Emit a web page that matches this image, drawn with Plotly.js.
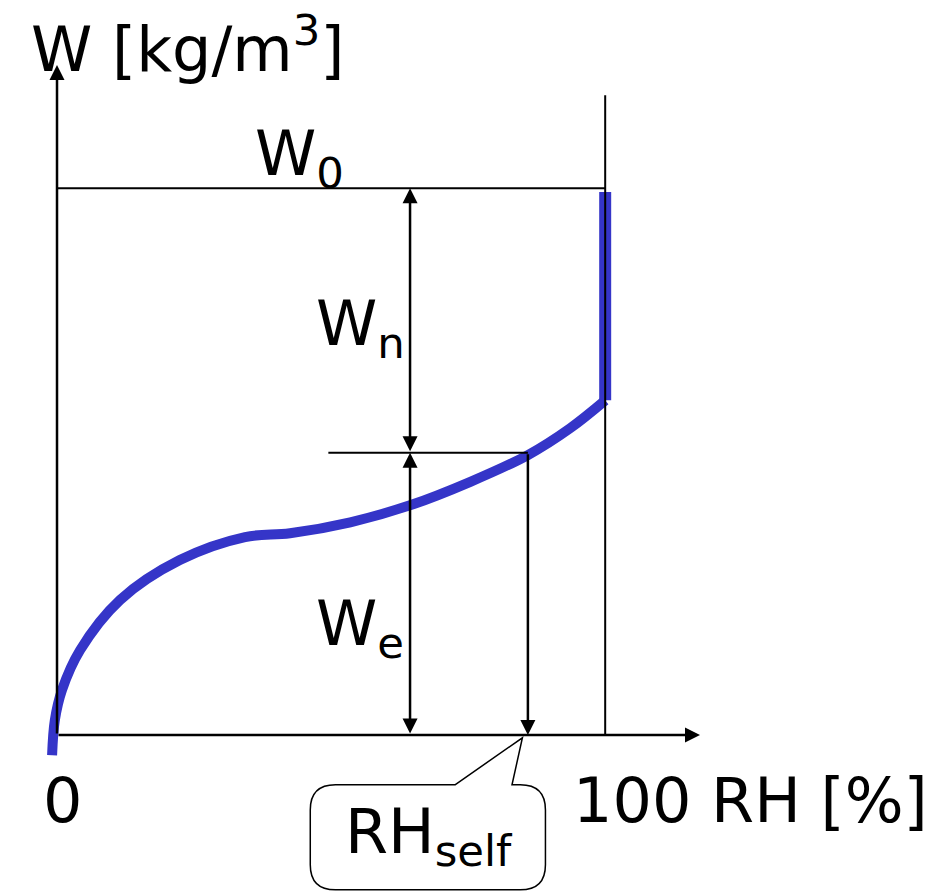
<!DOCTYPE html>
<html>
<head>
<meta charset="utf-8">
<script src="https://cdn.plot.ly/plotly-3.0.1.min.js"></script>
<style>html,body{margin:0;padding:0;background:#fff}</style>
</head>
<body>
<div id="plot" style="width:950px;height:895px"></div>
<script>
// sorption curve, RH [%] vs W (W0 = 100)
const curveRH = [-0.9, -0.4, 0.9, 4.2, 11.5, 22.4, 34.3, 42.5, 53.5, 64.4, 75.4, 85.9, 93.6, 100];
const curveW  = [-3.7, 2.7, 8.2, 15.5, 24.7, 32.0, 36.2, 36.9, 38.9, 42.0, 46.3, 51.2, 56.1, 61.2];
const satRH = [100, 100];
const satW = [61.2, 99.3];

const W0 = 100;
const Wself = 51.6;
const RHself = 85.9;
const RHmark = 64.4;

const black = '#000';
const blue = '#3535c8';
const fnt = {family: 'DejaVu Sans', size: 62, color: black};

const traces = [
  {x: curveRH, y: curveW, mode: 'lines', line: {color: blue, width: 10, shape: 'spline'}, hoverinfo: 'skip'},
  {x: satRH, y: satW, mode: 'lines', line: {color: blue, width: 12}, hoverinfo: 'skip'}
];

function arrow(x, y, ax, ay, side) {
  return {x: x, y: y, ax: ax, ay: ay, xref: 'x', yref: 'y', axref: 'x', ayref: 'y',
    text: '', showarrow: true, arrowhead: 2, arrowsize: 1.2, arrowwidth: 2.5,
    arrowcolor: black, arrowside: side || 'end'};
}

function label(x, y, text, anchor) {
  return {x: x, y: y, xref: 'x', yref: 'y', text: text, showarrow: false,
    xanchor: anchor || 'center', font: fnt};
}

const annotations = [
  arrow(117.3, 0, 0, 0),
  arrow(0, 122.5, 0, 0),
  arrow(RHmark, W0, RHmark, Wself, 'end+start'),
  arrow(RHmark, Wself, RHmark, 0, 'end+start'),
  arrow(RHself, 0, RHself, Wself),
  label(-5.2, 126, 'W [kg/m<sup>3</sup>]', 'left'),
  label(44.3, 105.6, 'W<sub>0</sub>'),
  label(55.3, 74.6, 'W<sub>n</sub>'),
  label(55.3, 19.7, 'W<sub>e</sub>'),
  label(1, -11.9, '0'),
  label(126.5, -11.9, '100 RH [%]'),
  label(67.8, -18.3, 'RH<sub>self</sub>')
];

const shapes = [
  {type: 'line', x0: 0, y0: W0, x1: 100, y1: W0, line: {color: black, width: 2}},
  {type: 'line', x0: 100, y0: 0, x1: 100, y1: 117, line: {color: black, width: 2}},
  {type: 'line', x0: 49.5, y0: Wself, x1: RHself, y1: Wself, line: {color: black, width: 2}},
  {type: 'path', line: {color: black, width: 1.5},
    path: 'M 72.6,-9.1 L 84.9,-0.5 L 83.0,-9.1 L 84.5,-9.1 Q 89.1,-9.1 89.1,-13.7 L 89.1,-23.7 Q 89.1,-28.3 84.5,-28.3 L 50.8,-28.3 Q 46.2,-28.3 46.2,-23.7 L 46.2,-13.7 Q 46.2,-9.1 50.8,-9.1 Z'}
];

const layout = {
  width: 950, height: 895,
  margin: {l: 0, r: 0, t: 0, b: 0},
  showlegend: false,
  paper_bgcolor: '#fff', plot_bgcolor: '#fff',
  xaxis: {range: [-10.4, 162.9], visible: false, fixedrange: true},
  yaxis: {range: [-29.25, 134.4], visible: false, fixedrange: true},
  shapes: shapes,
  annotations: annotations
};

Plotly.newPlot('plot', traces, layout, {displayModeBar: false, staticPlot: true});
</script>
</body>
</html>
